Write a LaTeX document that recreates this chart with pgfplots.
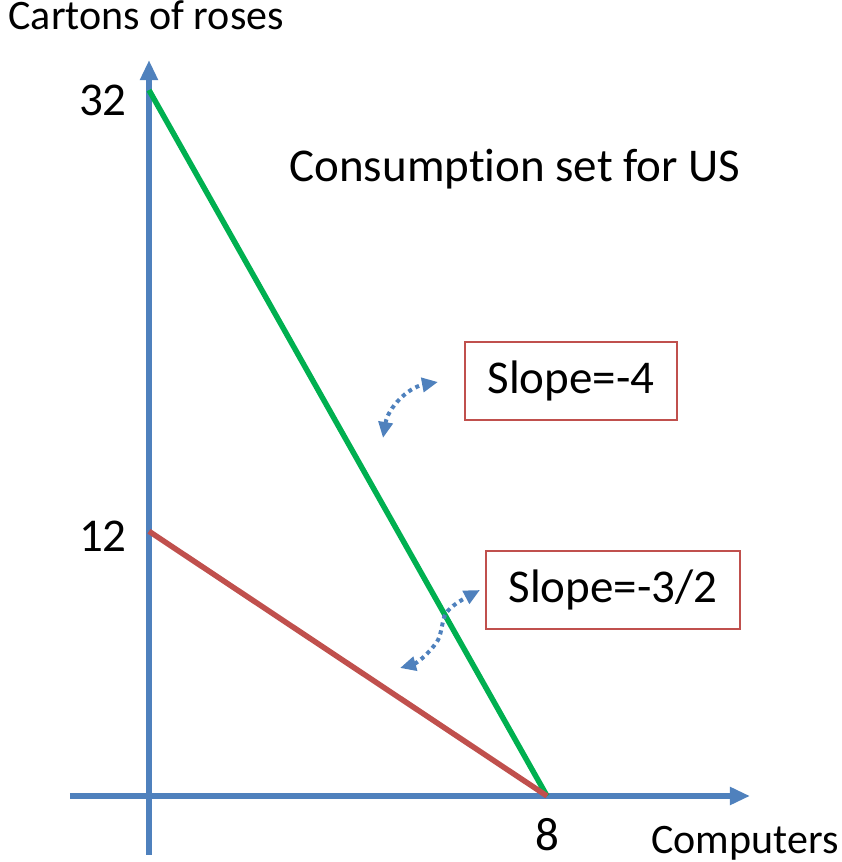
\documentclass[border=0pt]{standalone}
\usepackage{fontspec}
\setmainfont{Carlito}[Ligatures=NoCommon]
\usepackage{pgfplots}
\pgfplotsset{compat=1.18}
\usetikzlibrary{arrows.meta}
\definecolor{axblue}{HTML}{4F81BD}
\definecolor{lgreen}{HTML}{00B050}
\definecolor{lred}{HTML}{C0504D}
\begin{document}
\begin{tikzpicture}
\useasboundingbox (-149pt,-66pt) rectangle (692pt,796pt);
\begin{axis}[
  anchor=origin, at={(0pt,0pt)},
  x=49.75pt, y=22.06pt,
  xmin=-1.588, xmax=12.08, ymin=-2.674, ymax=33.36,
  axis lines=middle,
  axis line style={line width=5.5pt, axblue, -{Triangle[length=20pt,width=17pt]}},
  xtick=\empty, ytick=\empty,
  clip=false,
]
\addplot[lgreen, line width=5.5pt] coordinates {(0,32) (8,0)};
\addplot[lred, line width=5.5pt] coordinates {(0,12) (8,0)};
\node[anchor=base, font=\fontsize{47}{56}\selectfont] at (axis cs:-0.925,30.87) {32};
\node[anchor=base, font=\fontsize{47}{56}\selectfont] at (axis cs:-0.925,11.1) {12};
\node[anchor=base, font=\fontsize{47}{56}\selectfont] at (axis cs:8,-2.45) {8};
\end{axis}
\node[anchor=base west, font=\fontsize{42}{50}\selectfont] at (-144pt,766pt) {Cartons of roses};
\node[anchor=base, font=\fontsize{42}{50}\selectfont] at (596pt,-57pt) {Computers};
\node[anchor=base, font=\fontsize{47}{56}\selectfont] at (366pt,614pt) {Consumption set for US};
\node[draw=lred, line width=1.5pt, minimum width=212pt, minimum height=78pt, font=\fontsize{47}{56}\selectfont] at (422pt,415pt) {Slope=-4};
\node[draw=lred, line width=1.5pt, minimum width=254pt, minimum height=78pt, font=\fontsize{47}{56}\selectfont] at (464pt,206pt) {Slope=-3/2};
\draw[axblue, line width=4pt, dash pattern=on 4pt off 4pt, {Triangle[length=16pt,width=14pt]}-{Triangle[length=16pt,width=14pt]}]
  (234pt,358pt) to[bend left=35] (289pt,414pt);
\draw[axblue, line width=4pt, dash pattern=on 4pt off 4pt, {Triangle[length=16pt,width=14pt]}-{Triangle[length=16pt,width=14pt]}]
  plot[smooth] coordinates {(251pt,128pt) (271pt,136pt) (289pt,156pt) (296pt,181pt) (308pt,193pt) (331pt,206pt)};
\end{tikzpicture}
\end{document}
